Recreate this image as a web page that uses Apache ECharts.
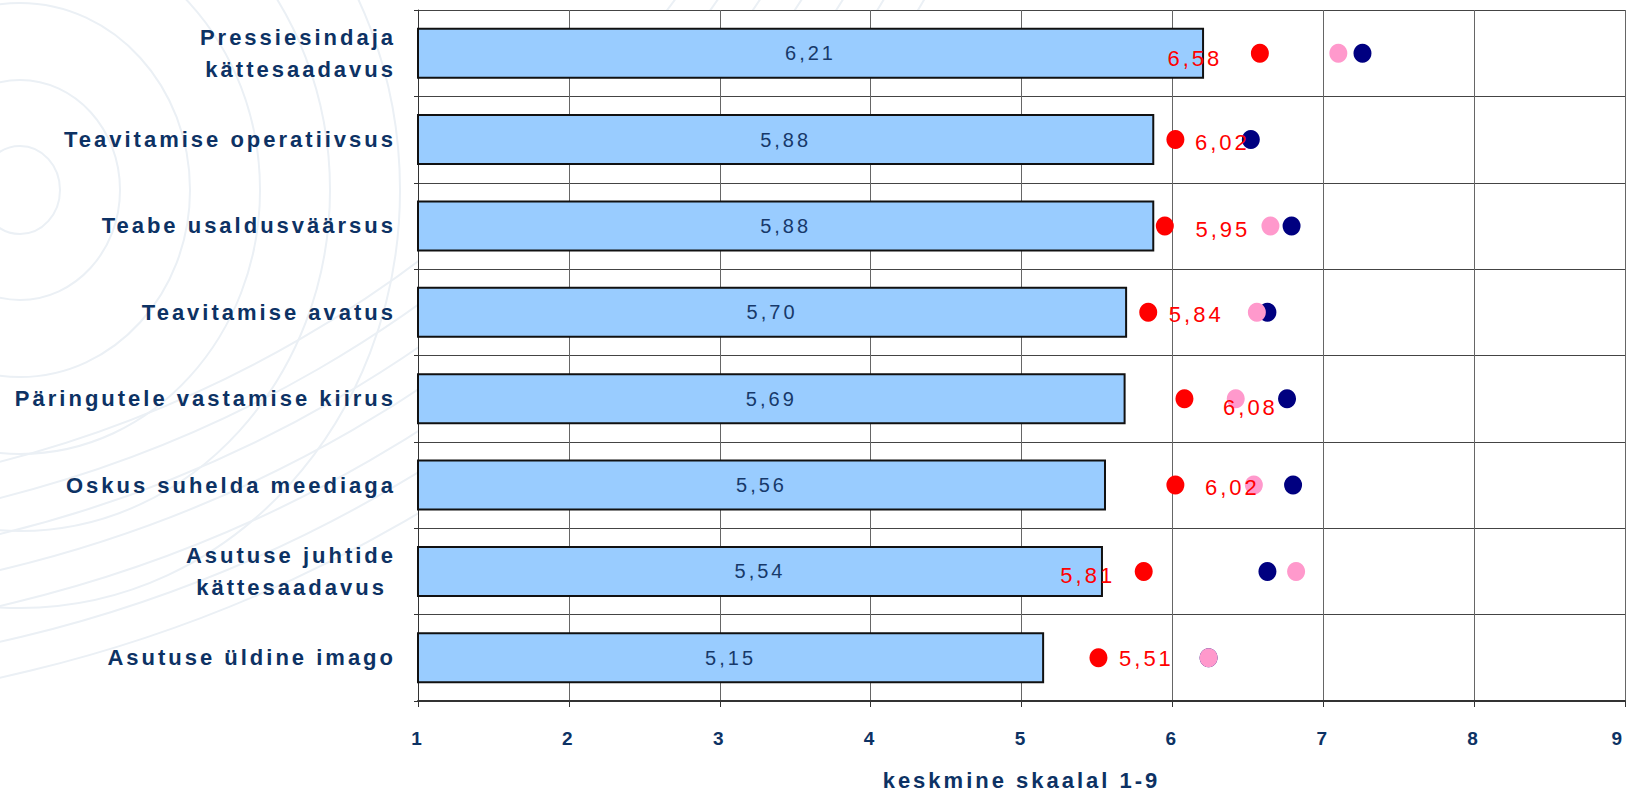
<!DOCTYPE html>
<html>
<head>
<meta charset="utf-8">
<script src="https://cdn.jsdelivr.net/npm/echarts@6/dist/echarts.min.js"></script>
<style>
  html, body { margin: 0; padding: 0; background: #fff; }
  /* originaalis on kõik tekstid hõredalt laotud */
  #myChart text { letter-spacing: 3px; }
</style>
</head>
<body>
<div id="myChart" style="width: 1628px; height: 792px"></div>
<script>
// kategooriad (ülevalt alla)
const categories = [
  'Pressiesindaja\nkättesaadavus',
  'Teavitamise operatiivsus',
  'Teabe usaldusväärsus',
  'Teavitamise avatus',
  'Päringutele vastamise kiirus',
  'Oskus suhelda meediaga',
  'Asutuse juhtide\nkättesaadavus ',
  'Asutuse üldine imago'
];
// tulbad
const barValues = [6.21, 5.88, 5.88, 5.70, 5.69, 5.56, 5.54, 5.15];
// punased punktid (sildiga)
const redValues = [6.58, 6.02, 5.95, 5.84, 6.08, 6.02, 5.81, 5.51];
// tumesinised punktid
const navyValues = [7.26, 6.52, 6.79, 6.63, 6.76, 6.80, 6.63, 6.24];
// roosad punktid
const pinkValues = [7.10, null, 6.65, 6.56, 6.42, 6.54, 6.82, 6.24];
const xTicks = [1, 2, 3, 4, 5, 6, 7, 8, 9];

// punaste siltide nihked (px) – käsitsi paigutatud nagu originaalis
const redLabelShift = [[-65, 5], [47, 3], [58, 4], [48, 2], [66, 9], [57, 2], [-56, 4], [48, 1]];

const fmt = (v) => v.toFixed(2).replace('.', ',');
const navyText = '#0d3264';
const font = 'Liberation Sans';

// taustal olev hele gloobuse muster
const arcs = [];
[40, 100, 170, 240, 310, 380].forEach((r) => {
  arcs.push({
    type: 'ellipse',
    shape: { cx: 20, cy: 190, rx: r, ry: r * 1.1 },
    style: { fill: null, stroke: '#ebf0f5', lineWidth: 2 },
    silent: true, z: -10
  });
});
[1200, 1235, 1270, 1305, 1340, 1375, 1410].forEach((r) => {
  arcs.push({
    type: 'circle',
    shape: { cx: -300, cy: -700, r: r },
    style: { fill: null, stroke: '#ebf0f5', lineWidth: 2 },
    silent: true, z: -10
  });
});

let myChart = echarts.init(document.getElementById('myChart'), null, { renderer: 'svg' });
myChart.setOption({
  backgroundColor: '#ffffff',
  animation: false,
  graphic: arcs,
  grid: {
    left: 418,
    right: 3,
    top: 10,
    bottom: 91,
    outerBoundsMode: 'none',
    show: true,
    backgroundColor: '#ffffff',
    borderWidth: 0
  },
  xAxis: {
    type: 'value',
    min: 1,
    max: 9,
    interval: 1,
    name: 'keskmine skaalal 1-9',
    nameLocation: 'middle',
    nameGap: 68,
    nameMoveOverlap: false,
    nameTextStyle: {
      fontFamily: font,
      fontWeight: 'bold',
      fontSize: 22,
      color: navyText
    },
    axisLine: { show: true, lineStyle: { color: '#333', width: 2 } },
    axisTick: { show: true, length: 6, lineStyle: { color: '#333' } },
    axisLabel: {
      margin: 28,
      fontFamily: font,
      fontWeight: 'bold',
      fontSize: 19,
      color: navyText,
      alignMaxLabel: 'right',
      customValues: xTicks
    },
    splitLine: { show: true, lineStyle: { color: '#666', width: 1 } }
  },
  yAxis: {
    type: 'category',
    inverse: true,
    data: categories,
    axisLine: { show: true, lineStyle: { color: '#333', width: 1 } },
    axisTick: { show: true, length: 4, lineStyle: { color: '#333' } },
    axisLabel: {
      margin: 22,
      fontFamily: font,
      fontWeight: 'bold',
      fontSize: 22,
      lineHeight: 32,
      color: navyText,
      align: 'right'
    },
    splitLine: { show: true, lineStyle: { color: '#444', width: 1 } }
  },
  series: [
    {
      name: 'tulp',
      type: 'bar',
      data: barValues,
      barWidth: '59%',
      itemStyle: { color: '#99ccff', borderColor: '#111', borderWidth: 2 },
      label: {
        show: true,
        position: 'inside',
        formatter: (p) => fmt(p.value),
        fontFamily: font,
        fontSize: 20,
        color: '#17396a'
      },
      z: 2
    },
    {
      name: 'punane',
      type: 'scatter',
      data: redValues.map((v, i) => ({
        value: [v, i],
        label: { offset: redLabelShift[i] }
      })),
      symbol: 'circle',
      symbolSize: [18, 19],
      itemStyle: { color: '#ff0000', opacity: 1 },
      label: {
        show: true,
        position: 'inside',
        formatter: (p) => fmt(p.value[0]),
        fontFamily: font,
        fontSize: 22,
        color: '#ff0000'
      },
      z: 5
    },
    {
      name: 'tumesinine',
      type: 'scatter',
      data: navyValues.map((v, i) => [v, i]),
      symbol: 'circle',
      symbolSize: [18, 19],
      itemStyle: { color: '#000080', opacity: 1 },
      z: 4
    },
    {
      name: 'roosa',
      type: 'scatter',
      data: pinkValues.map((v, i) => (v == null ? null : [v, i])).filter((d) => d),
      symbol: 'circle',
      symbolSize: [18, 19],
      itemStyle: { color: '#ff99cc', opacity: 1 },
      z: 4
    }
  ]
});
</script>
</body>
</html>
